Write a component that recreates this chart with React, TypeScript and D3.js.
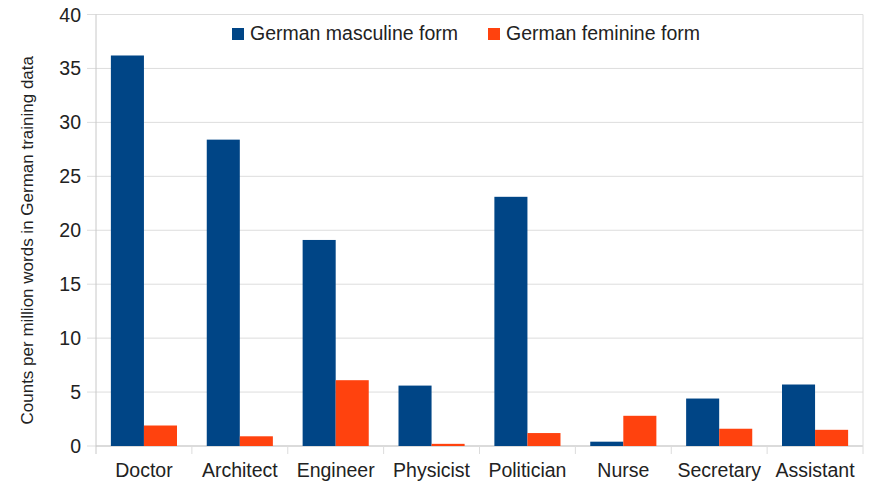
import React, { useRef, useEffect } from 'react';
import * as d3 from 'd3';

const categories = ['Doctor', 'Architect', 'Engineer', 'Physicist', 'Politician', 'Nurse', 'Secretary', 'Assistant'];
const seriesNames = ['German masculine form', 'German feminine form'];
const masculine = [36.2, 28.4, 19.1, 5.6, 23.1, 0.4, 4.4, 5.7];
const feminine = [1.9, 0.9, 6.1, 0.2, 1.2, 2.8, 1.6, 1.5];
const yTicks = [0, 5, 10, 15, 20, 25, 30, 35, 40];
const colors = ['#004586', '#ff420e'];

const App: React.FC = () => {
    const svgRef = useRef<SVGSVGElement | null>(null);

    useEffect(() => {
        const svg = d3.select(svgRef.current);
        svg.selectAll('*').remove();

        const width = 875;
        const height = 487;
        const margin = { top: 14.5, right: 12, bottom: 41, left: 96 };
        const font = '"Liberation Sans", Arial, sans-serif';

        const x0 = d3
            .scaleBand()
            .domain(categories)
            .range([margin.left, width - margin.right])
            .padding(0);

        const x1 = d3
            .scaleBand()
            .domain(seriesNames)
            .range([0, x0.bandwidth()])
            .paddingInner(0)
            .paddingOuter(0.45);

        const y = d3
            .scaleLinear()
            .domain([0, 40])
            .range([height - margin.bottom, margin.top]);

        // grid lines
        svg.append('g')
            .selectAll('line')
            .data(yTicks)
            .join('line')
            .attr('x1', margin.left - 9)
            .attr('x2', width - margin.right)
            .attr('y1', d => y(d))
            .attr('y2', d => y(d))
            .attr('stroke', '#dddddd')
            .attr('stroke-width', 1);

        // y axis line
        svg.append('line')
            .attr('x1', margin.left)
            .attr('x2', margin.left)
            .attr('y1', y(40))
            .attr('y2', y(0) + 8)
            .attr('stroke', '#c8c8c8');

        // x axis line + category ticks
        svg.append('line')
            .attr('x1', margin.left)
            .attr('x2', width - margin.right)
            .attr('y1', y(0))
            .attr('y2', y(0))
            .attr('stroke', '#c8c8c8');

        const boundaries = categories.map(c => x0(c) as number).concat([width - margin.right]);
        svg.append('g')
            .selectAll('line')
            .data(boundaries.slice(1))
            .join('line')
            .attr('x1', d => d)
            .attr('x2', d => d)
            .attr('y1', (d, i) => (i === boundaries.length - 2 ? y(40) : y(0)))
            .attr('y2', y(0) + 8)
            .attr('stroke', '#dcdcdc');

        // y tick labels
        svg.append('g')
            .selectAll('text')
            .data(yTicks)
            .join('text')
            .attr('x', margin.left - 15)
            .attr('y', d => y(d))
            .attr('dy', '0.36em')
            .attr('text-anchor', 'end')
            .attr('font-family', font)
            .attr('font-size', 19.5)
            .attr('fill', '#222')
            .text(d => d);

        // category labels
        svg.append('g')
            .selectAll('text')
            .data(categories)
            .join('text')
            .attr('x', d => (x0(d) as number) + x0.bandwidth() / 2)
            .attr('y', 477)
            .attr('text-anchor', 'middle')
            .attr('font-family', font)
            .attr('font-size', 19.5)
            .attr('fill', '#222')
            .text(d => d);

        // bars
        const rows = categories.map((c, i) => ({ category: c, values: [masculine[i], feminine[i]] }));
        svg.append('g')
            .selectAll('g')
            .data(rows)
            .join('g')
            .attr('transform', d => `translate(${x0(d.category)},0)`)
            .selectAll('rect')
            .data(d => d.values.map((v, j) => ({ key: seriesNames[j], value: v, j })))
            .join('rect')
            .attr('x', d => x1(d.key) as number)
            .attr('y', d => y(d.value))
            .attr('width', x1.bandwidth())
            .attr('height', d => y(0) - y(d.value))
            .attr('fill', d => colors[d.j]);

        // y axis title
        svg.append('text')
            .attr('transform', `translate(33,${(y(0) + y(40)) / 2 + 10}) rotate(-90)`)
            .attr('text-anchor', 'middle')
            .attr('font-family', font)
            .attr('font-size', 17)
            .attr('fill', '#222')
            .text('Counts per million words in German training data');

        // legend
        const legendX = [232, 488];
        const legend = svg.append('g')
            .selectAll('g')
            .data(seriesNames)
            .join('g')
            .attr('transform', (d, i) => `translate(${legendX[i]},28)`);
        legend.append('rect')
            .attr('width', 12)
            .attr('height', 12)
            .attr('fill', (d, i) => colors[i]);
        legend.append('text')
            .attr('x', 18)
            .attr('y', 12)
            .attr('font-family', font)
            .attr('font-size', 19.5)
            .attr('fill', '#222')
            .text(d => d);
    }, []);

    return (
        <div style={{ position: 'absolute', left: 0, top: 0 }}>
            <svg ref={svgRef} width="875" height="487" />
        </div>
    );
};

export default App;
